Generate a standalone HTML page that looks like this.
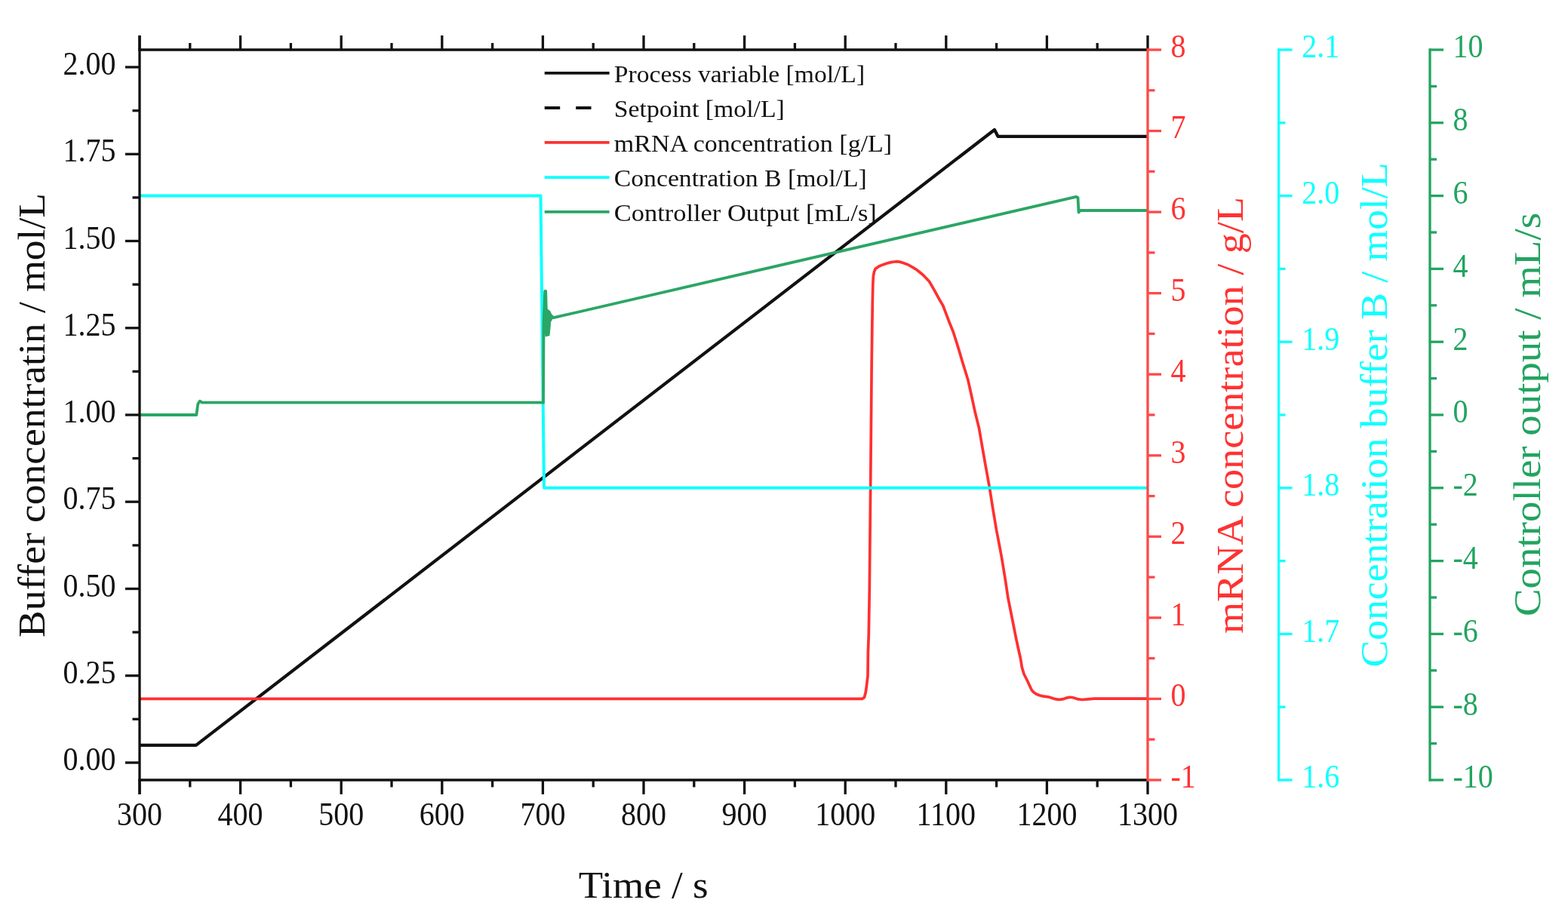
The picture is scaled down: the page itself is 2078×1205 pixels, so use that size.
<!DOCTYPE html>
<html><head><meta charset="utf-8"><title>Controller chart</title>
<style>html,body{margin:0;padding:0;background:#fff;width:2078px;height:1205px;overflow:hidden}</style>
</head><body>

<svg width="2078" height="1205" viewBox="0 0 2078 1205" style="display:block">
<rect width="2078" height="1205" fill="#fff"/>
<g font-family='"Liberation Serif", serif'>
<path d="M185.0,987.9 L259.8,987.9 L1318,172 L1322.5,180.8 L1521.0,180.8" fill="none" stroke="#111" stroke-width="4.2" stroke-linejoin="round"/>
<path d="M185.0,926.4 L1142.6,926.4 L1145.5,924.5 L1147.3,917.5 L1148.6,908.0 L1150.0,896.0 L1150.4,865.0 L1151.3,840.0 L1152.3,780.0 L1153.1,700.0 L1153.9,620.0 L1155.2,480.0 L1156.3,400.0 L1156.9,374.8 L1157.4,366.0 L1158.5,360.3 L1160.2,356.2 L1164.5,353.3 L1169.9,350.9 L1174.8,349.2 L1179.8,347.9 L1184.8,347.0 L1189.8,346.7 L1193.5,347.4 L1197.0,348.6 L1203.6,351.0 L1210.0,354.6 L1215.0,357.8 L1219.6,361.5 L1223.3,364.5 L1231.6,373.2 L1238.2,384.6 L1244.0,395.4 L1249.9,405.5 L1254.0,416.4 L1258.2,427.5 L1263.3,440.0 L1269.6,459.9 L1276.3,482.5 L1282.9,503.8 L1287.6,525.0 L1292.2,546.3 L1297.5,567.6 L1301.5,591.0 L1306.0,616.6 L1311.3,645.8 L1315.9,675.0 L1320.6,703.0 L1325.2,726.9 L1327.8,741.0 L1332.0,766.6 L1336.0,793.2 L1341.3,819.7 L1346.6,846.3 L1350.2,863.0 L1352.3,872.0 L1354.3,884.5 L1357.0,893.5 L1361.3,902.0 L1364.3,908.5 L1367.4,915.0 L1370.0,917.8 L1373.2,920.0 L1377.5,921.8 L1382.0,922.9 L1390.7,924.2 L1399.4,926.9 L1404.0,927.3 L1408.1,926.9 L1412.5,925.4 L1417.4,924.3 L1421.0,924.5 L1424.4,925.5 L1429.0,926.9 L1434.3,927.5 L1442.0,926.8 L1450.0,926.1 L1521.0,926.2" fill="none" stroke="#ff3030" stroke-width="3.7" stroke-linejoin="round"/>
<path d="M185.0,259.6 L716.5,259.6 L721,646.8 L1521.0,646.8" fill="none" stroke="#10ffff" stroke-width="4.0" stroke-linejoin="round"/>
<path d="M185.0,550.0 L260.3,550.0 L262.3,535.5 L264.8,531.7 L268,533.7 L720,533.7 L720.5,430 L722.2,386 L723.2,386 L723.8,410 L725,412 L726,420 L727,440 L728,425 L729,418 L731,419 L733.5,421.2 L1426,260.8 L1428.5,262 L1429.5,281.5 L1431.5,279 L1521,279" fill="none" stroke="#2aa665" stroke-width="3.8" stroke-linejoin="round"/>
<path d="M721,411 L724.5,409 L729,412 L733.5,421 L730,427 L728.5,445 L722.5,446.5 L721,432 Z" fill="#2aa665"/>
<line x1="183.3" y1="66.0" x2="1521.0" y2="66.0" stroke="#111" stroke-width="3.3" />
<line x1="183.3" y1="1034.0" x2="1521.0" y2="1034.0" stroke="#111" stroke-width="3.3" />
<line x1="185.0" y1="47.0" x2="185.0" y2="1053.0" stroke="#111" stroke-width="3.3" />
<line x1="185.0" y1="1034.0" x2="185.0" y2="1053.0" stroke="#111" stroke-width="3.3" />
<line x1="185.0" y1="66.0" x2="185.0" y2="47.0" stroke="#111" stroke-width="3.3" />
<text transform="matrix(0.92,0,0,1,185.0,1094.0)" fill="#111" font-size="43.5" text-anchor="middle">300</text>
<line x1="251.8" y1="1034.0" x2="251.8" y2="1043.5" stroke="#111" stroke-width="3.3" />
<line x1="251.8" y1="66.0" x2="251.8" y2="57.0" stroke="#111" stroke-width="3.3" />
<line x1="318.6" y1="1034.0" x2="318.6" y2="1053.0" stroke="#111" stroke-width="3.3" />
<line x1="318.6" y1="66.0" x2="318.6" y2="47.0" stroke="#111" stroke-width="3.3" />
<text transform="matrix(0.92,0,0,1,318.6,1094.0)" fill="#111" font-size="43.5" text-anchor="middle">400</text>
<line x1="385.4" y1="1034.0" x2="385.4" y2="1043.5" stroke="#111" stroke-width="3.3" />
<line x1="385.4" y1="66.0" x2="385.4" y2="57.0" stroke="#111" stroke-width="3.3" />
<line x1="452.2" y1="1034.0" x2="452.2" y2="1053.0" stroke="#111" stroke-width="3.3" />
<line x1="452.2" y1="66.0" x2="452.2" y2="47.0" stroke="#111" stroke-width="3.3" />
<text transform="matrix(0.92,0,0,1,452.2,1094.0)" fill="#111" font-size="43.5" text-anchor="middle">500</text>
<line x1="519.0" y1="1034.0" x2="519.0" y2="1043.5" stroke="#111" stroke-width="3.3" />
<line x1="519.0" y1="66.0" x2="519.0" y2="57.0" stroke="#111" stroke-width="3.3" />
<line x1="585.8" y1="1034.0" x2="585.8" y2="1053.0" stroke="#111" stroke-width="3.3" />
<line x1="585.8" y1="66.0" x2="585.8" y2="47.0" stroke="#111" stroke-width="3.3" />
<text transform="matrix(0.92,0,0,1,585.8,1094.0)" fill="#111" font-size="43.5" text-anchor="middle">600</text>
<line x1="652.6" y1="1034.0" x2="652.6" y2="1043.5" stroke="#111" stroke-width="3.3" />
<line x1="652.6" y1="66.0" x2="652.6" y2="57.0" stroke="#111" stroke-width="3.3" />
<line x1="719.4" y1="1034.0" x2="719.4" y2="1053.0" stroke="#111" stroke-width="3.3" />
<line x1="719.4" y1="66.0" x2="719.4" y2="47.0" stroke="#111" stroke-width="3.3" />
<text transform="matrix(0.92,0,0,1,719.4,1094.0)" fill="#111" font-size="43.5" text-anchor="middle">700</text>
<line x1="786.2" y1="1034.0" x2="786.2" y2="1043.5" stroke="#111" stroke-width="3.3" />
<line x1="786.2" y1="66.0" x2="786.2" y2="57.0" stroke="#111" stroke-width="3.3" />
<line x1="853.0" y1="1034.0" x2="853.0" y2="1053.0" stroke="#111" stroke-width="3.3" />
<line x1="853.0" y1="66.0" x2="853.0" y2="47.0" stroke="#111" stroke-width="3.3" />
<text transform="matrix(0.92,0,0,1,853.0,1094.0)" fill="#111" font-size="43.5" text-anchor="middle">800</text>
<line x1="919.8" y1="1034.0" x2="919.8" y2="1043.5" stroke="#111" stroke-width="3.3" />
<line x1="919.8" y1="66.0" x2="919.8" y2="57.0" stroke="#111" stroke-width="3.3" />
<line x1="986.6" y1="1034.0" x2="986.6" y2="1053.0" stroke="#111" stroke-width="3.3" />
<line x1="986.6" y1="66.0" x2="986.6" y2="47.0" stroke="#111" stroke-width="3.3" />
<text transform="matrix(0.92,0,0,1,986.6,1094.0)" fill="#111" font-size="43.5" text-anchor="middle">900</text>
<line x1="1053.4" y1="1034.0" x2="1053.4" y2="1043.5" stroke="#111" stroke-width="3.3" />
<line x1="1053.4" y1="66.0" x2="1053.4" y2="57.0" stroke="#111" stroke-width="3.3" />
<line x1="1120.2" y1="1034.0" x2="1120.2" y2="1053.0" stroke="#111" stroke-width="3.3" />
<line x1="1120.2" y1="66.0" x2="1120.2" y2="47.0" stroke="#111" stroke-width="3.3" />
<text transform="matrix(0.92,0,0,1,1120.2,1094.0)" fill="#111" font-size="43.5" text-anchor="middle">1000</text>
<line x1="1187.0" y1="1034.0" x2="1187.0" y2="1043.5" stroke="#111" stroke-width="3.3" />
<line x1="1187.0" y1="66.0" x2="1187.0" y2="57.0" stroke="#111" stroke-width="3.3" />
<line x1="1253.8" y1="1034.0" x2="1253.8" y2="1053.0" stroke="#111" stroke-width="3.3" />
<line x1="1253.8" y1="66.0" x2="1253.8" y2="47.0" stroke="#111" stroke-width="3.3" />
<text transform="matrix(0.92,0,0,1,1253.8,1094.0)" fill="#111" font-size="43.5" text-anchor="middle">1100</text>
<line x1="1320.6" y1="1034.0" x2="1320.6" y2="1043.5" stroke="#111" stroke-width="3.3" />
<line x1="1320.6" y1="66.0" x2="1320.6" y2="57.0" stroke="#111" stroke-width="3.3" />
<line x1="1387.4" y1="1034.0" x2="1387.4" y2="1053.0" stroke="#111" stroke-width="3.3" />
<line x1="1387.4" y1="66.0" x2="1387.4" y2="47.0" stroke="#111" stroke-width="3.3" />
<text transform="matrix(0.92,0,0,1,1387.4,1094.0)" fill="#111" font-size="43.5" text-anchor="middle">1200</text>
<line x1="1454.2" y1="1034.0" x2="1454.2" y2="1043.5" stroke="#111" stroke-width="3.3" />
<line x1="1454.2" y1="66.0" x2="1454.2" y2="57.0" stroke="#111" stroke-width="3.3" />
<line x1="1521.0" y1="1034.0" x2="1521.0" y2="1053.0" stroke="#111" stroke-width="3.3" />
<line x1="1521.0" y1="66.0" x2="1521.0" y2="47.0" stroke="#111" stroke-width="3.3" />
<text transform="matrix(0.92,0,0,1,1521.0,1094.0)" fill="#111" font-size="43.5" text-anchor="middle">1300</text>
<line x1="185.0" y1="1011.0" x2="166.0" y2="1011.0" stroke="#111" stroke-width="3.3" />
<text transform="matrix(0.92,0,0,1,153.5,1021.0)" fill="#111" font-size="43.5" text-anchor="end">0.00</text>
<line x1="185.0" y1="953.3" x2="175.5" y2="953.3" stroke="#111" stroke-width="3.3" />
<line x1="185.0" y1="895.7" x2="166.0" y2="895.7" stroke="#111" stroke-width="3.3" />
<text transform="matrix(0.92,0,0,1,153.5,905.7)" fill="#111" font-size="43.5" text-anchor="end">0.25</text>
<line x1="185.0" y1="838.1" x2="175.5" y2="838.1" stroke="#111" stroke-width="3.3" />
<line x1="185.0" y1="780.5" x2="166.0" y2="780.5" stroke="#111" stroke-width="3.3" />
<text transform="matrix(0.92,0,0,1,153.5,790.5)" fill="#111" font-size="43.5" text-anchor="end">0.50</text>
<line x1="185.0" y1="722.9" x2="175.5" y2="722.9" stroke="#111" stroke-width="3.3" />
<line x1="185.0" y1="665.2" x2="166.0" y2="665.2" stroke="#111" stroke-width="3.3" />
<text transform="matrix(0.92,0,0,1,153.5,675.2)" fill="#111" font-size="43.5" text-anchor="end">0.75</text>
<line x1="185.0" y1="607.6" x2="175.5" y2="607.6" stroke="#111" stroke-width="3.3" />
<line x1="185.0" y1="550.0" x2="166.0" y2="550.0" stroke="#111" stroke-width="3.3" />
<text transform="matrix(0.92,0,0,1,153.5,560.0)" fill="#111" font-size="43.5" text-anchor="end">1.00</text>
<line x1="185.0" y1="492.4" x2="175.5" y2="492.4" stroke="#111" stroke-width="3.3" />
<line x1="185.0" y1="434.8" x2="166.0" y2="434.8" stroke="#111" stroke-width="3.3" />
<text transform="matrix(0.92,0,0,1,153.5,444.8)" fill="#111" font-size="43.5" text-anchor="end">1.25</text>
<line x1="185.0" y1="377.1" x2="175.5" y2="377.1" stroke="#111" stroke-width="3.3" />
<line x1="185.0" y1="319.5" x2="166.0" y2="319.5" stroke="#111" stroke-width="3.3" />
<text transform="matrix(0.92,0,0,1,153.5,329.5)" fill="#111" font-size="43.5" text-anchor="end">1.50</text>
<line x1="185.0" y1="261.9" x2="175.5" y2="261.9" stroke="#111" stroke-width="3.3" />
<line x1="185.0" y1="204.3" x2="166.0" y2="204.3" stroke="#111" stroke-width="3.3" />
<text transform="matrix(0.92,0,0,1,153.5,214.3)" fill="#111" font-size="43.5" text-anchor="end">1.75</text>
<line x1="185.0" y1="146.7" x2="175.5" y2="146.7" stroke="#111" stroke-width="3.3" />
<line x1="185.0" y1="89.0" x2="166.0" y2="89.0" stroke="#111" stroke-width="3.3" />
<text transform="matrix(0.92,0,0,1,153.5,99.0)" fill="#111" font-size="43.5" text-anchor="end">2.00</text>
<line x1="1521.0" y1="64.3" x2="1521.0" y2="1035.7" stroke="#ff4848" stroke-width="3.3" />
<line x1="1521.0" y1="1034.0" x2="1539.0" y2="1034.0" stroke="#ff4848" stroke-width="3.3" />
<text transform="matrix(0.92,0,0,1,1551.5,1043.8)" fill="#ff3232" font-size="43.5" text-anchor="start">-1</text>
<line x1="1521.0" y1="980.2" x2="1530.5" y2="980.2" stroke="#ff4848" stroke-width="3.3" />
<line x1="1521.0" y1="926.4" x2="1539.0" y2="926.4" stroke="#ff4848" stroke-width="3.3" />
<text transform="matrix(0.92,0,0,1,1551.5,936.2)" fill="#ff3232" font-size="43.5" text-anchor="start">0</text>
<line x1="1521.0" y1="872.7" x2="1530.5" y2="872.7" stroke="#ff4848" stroke-width="3.3" />
<line x1="1521.0" y1="818.9" x2="1539.0" y2="818.9" stroke="#ff4848" stroke-width="3.3" />
<text transform="matrix(0.92,0,0,1,1551.5,828.7)" fill="#ff3232" font-size="43.5" text-anchor="start">1</text>
<line x1="1521.0" y1="765.1" x2="1530.5" y2="765.1" stroke="#ff4848" stroke-width="3.3" />
<line x1="1521.0" y1="711.3" x2="1539.0" y2="711.3" stroke="#ff4848" stroke-width="3.3" />
<text transform="matrix(0.92,0,0,1,1551.5,721.1)" fill="#ff3232" font-size="43.5" text-anchor="start">2</text>
<line x1="1521.0" y1="657.6" x2="1530.5" y2="657.6" stroke="#ff4848" stroke-width="3.3" />
<line x1="1521.0" y1="603.8" x2="1539.0" y2="603.8" stroke="#ff4848" stroke-width="3.3" />
<text transform="matrix(0.92,0,0,1,1551.5,613.6)" fill="#ff3232" font-size="43.5" text-anchor="start">3</text>
<line x1="1521.0" y1="550.0" x2="1530.5" y2="550.0" stroke="#ff4848" stroke-width="3.3" />
<line x1="1521.0" y1="496.2" x2="1539.0" y2="496.2" stroke="#ff4848" stroke-width="3.3" />
<text transform="matrix(0.92,0,0,1,1551.5,506.0)" fill="#ff3232" font-size="43.5" text-anchor="start">4</text>
<line x1="1521.0" y1="442.4" x2="1530.5" y2="442.4" stroke="#ff4848" stroke-width="3.3" />
<line x1="1521.0" y1="388.7" x2="1539.0" y2="388.7" stroke="#ff4848" stroke-width="3.3" />
<text transform="matrix(0.92,0,0,1,1551.5,398.5)" fill="#ff3232" font-size="43.5" text-anchor="start">5</text>
<line x1="1521.0" y1="334.9" x2="1530.5" y2="334.9" stroke="#ff4848" stroke-width="3.3" />
<line x1="1521.0" y1="281.1" x2="1539.0" y2="281.1" stroke="#ff4848" stroke-width="3.3" />
<text transform="matrix(0.92,0,0,1,1551.5,290.9)" fill="#ff3232" font-size="43.5" text-anchor="start">6</text>
<line x1="1521.0" y1="227.3" x2="1530.5" y2="227.3" stroke="#ff4848" stroke-width="3.3" />
<line x1="1521.0" y1="173.6" x2="1539.0" y2="173.6" stroke="#ff4848" stroke-width="3.3" />
<text transform="matrix(0.92,0,0,1,1551.5,183.4)" fill="#ff3232" font-size="43.5" text-anchor="start">7</text>
<line x1="1521.0" y1="119.8" x2="1530.5" y2="119.8" stroke="#ff4848" stroke-width="3.3" />
<line x1="1521.0" y1="66.0" x2="1539.0" y2="66.0" stroke="#ff4848" stroke-width="3.3" />
<text transform="matrix(0.92,0,0,1,1551.5,75.8)" fill="#ff3232" font-size="43.5" text-anchor="start">8</text>
<line x1="1694.6" y1="64.3" x2="1694.6" y2="1035.7" stroke="#10ffff" stroke-width="3.3" />
<line x1="1694.6" y1="1034.0" x2="1712.6" y2="1034.0" stroke="#10ffff" stroke-width="3.3" />
<text transform="matrix(0.92,0,0,1,1725.3,1044.3)" fill="#10ffff" font-size="43.5" text-anchor="start">1.6</text>
<line x1="1694.6" y1="937.2" x2="1703.6" y2="937.2" stroke="#10ffff" stroke-width="3.3" />
<line x1="1694.6" y1="840.4" x2="1712.6" y2="840.4" stroke="#10ffff" stroke-width="3.3" />
<text transform="matrix(0.92,0,0,1,1725.3,850.7)" fill="#10ffff" font-size="43.5" text-anchor="start">1.7</text>
<line x1="1694.6" y1="743.6" x2="1703.6" y2="743.6" stroke="#10ffff" stroke-width="3.3" />
<line x1="1694.6" y1="646.8" x2="1712.6" y2="646.8" stroke="#10ffff" stroke-width="3.3" />
<text transform="matrix(0.92,0,0,1,1725.3,657.1)" fill="#10ffff" font-size="43.5" text-anchor="start">1.8</text>
<line x1="1694.6" y1="550.0" x2="1703.6" y2="550.0" stroke="#10ffff" stroke-width="3.3" />
<line x1="1694.6" y1="453.2" x2="1712.6" y2="453.2" stroke="#10ffff" stroke-width="3.3" />
<text transform="matrix(0.92,0,0,1,1725.3,463.5)" fill="#10ffff" font-size="43.5" text-anchor="start">1.9</text>
<line x1="1694.6" y1="356.4" x2="1703.6" y2="356.4" stroke="#10ffff" stroke-width="3.3" />
<line x1="1694.6" y1="259.6" x2="1712.6" y2="259.6" stroke="#10ffff" stroke-width="3.3" />
<text transform="matrix(0.92,0,0,1,1725.3,269.9)" fill="#10ffff" font-size="43.5" text-anchor="start">2.0</text>
<line x1="1694.6" y1="162.8" x2="1703.6" y2="162.8" stroke="#10ffff" stroke-width="3.3" />
<line x1="1694.6" y1="66.0" x2="1712.6" y2="66.0" stroke="#10ffff" stroke-width="3.3" />
<text transform="matrix(0.92,0,0,1,1725.3,76.3)" fill="#10ffff" font-size="43.5" text-anchor="start">2.1</text>
<line x1="1895.0" y1="64.3" x2="1895.0" y2="1035.7" stroke="#22a460" stroke-width="3.3" />
<line x1="1895.0" y1="1034.0" x2="1913.0" y2="1034.0" stroke="#22a460" stroke-width="3.3" />
<text transform="matrix(0.92,0,0,1,1925.5,1044.3)" fill="#22a460" font-size="43.5" text-anchor="start">-10</text>
<line x1="1895.0" y1="985.6" x2="1904.0" y2="985.6" stroke="#22a460" stroke-width="3.3" />
<line x1="1895.0" y1="937.2" x2="1913.0" y2="937.2" stroke="#22a460" stroke-width="3.3" />
<text transform="matrix(0.92,0,0,1,1925.5,947.5)" fill="#22a460" font-size="43.5" text-anchor="start">-8</text>
<line x1="1895.0" y1="888.8" x2="1904.0" y2="888.8" stroke="#22a460" stroke-width="3.3" />
<line x1="1895.0" y1="840.4" x2="1913.0" y2="840.4" stroke="#22a460" stroke-width="3.3" />
<text transform="matrix(0.92,0,0,1,1925.5,850.7)" fill="#22a460" font-size="43.5" text-anchor="start">-6</text>
<line x1="1895.0" y1="792.0" x2="1904.0" y2="792.0" stroke="#22a460" stroke-width="3.3" />
<line x1="1895.0" y1="743.6" x2="1913.0" y2="743.6" stroke="#22a460" stroke-width="3.3" />
<text transform="matrix(0.92,0,0,1,1925.5,753.9)" fill="#22a460" font-size="43.5" text-anchor="start">-4</text>
<line x1="1895.0" y1="695.2" x2="1904.0" y2="695.2" stroke="#22a460" stroke-width="3.3" />
<line x1="1895.0" y1="646.8" x2="1913.0" y2="646.8" stroke="#22a460" stroke-width="3.3" />
<text transform="matrix(0.92,0,0,1,1925.5,657.1)" fill="#22a460" font-size="43.5" text-anchor="start">-2</text>
<line x1="1895.0" y1="598.4" x2="1904.0" y2="598.4" stroke="#22a460" stroke-width="3.3" />
<line x1="1895.0" y1="550.0" x2="1913.0" y2="550.0" stroke="#22a460" stroke-width="3.3" />
<text transform="matrix(0.92,0,0,1,1925.5,560.3)" fill="#22a460" font-size="43.5" text-anchor="start">0</text>
<line x1="1895.0" y1="501.6" x2="1904.0" y2="501.6" stroke="#22a460" stroke-width="3.3" />
<line x1="1895.0" y1="453.2" x2="1913.0" y2="453.2" stroke="#22a460" stroke-width="3.3" />
<text transform="matrix(0.92,0,0,1,1925.5,463.5)" fill="#22a460" font-size="43.5" text-anchor="start">2</text>
<line x1="1895.0" y1="404.8" x2="1904.0" y2="404.8" stroke="#22a460" stroke-width="3.3" />
<line x1="1895.0" y1="356.4" x2="1913.0" y2="356.4" stroke="#22a460" stroke-width="3.3" />
<text transform="matrix(0.92,0,0,1,1925.5,366.7)" fill="#22a460" font-size="43.5" text-anchor="start">4</text>
<line x1="1895.0" y1="308.0" x2="1904.0" y2="308.0" stroke="#22a460" stroke-width="3.3" />
<line x1="1895.0" y1="259.6" x2="1913.0" y2="259.6" stroke="#22a460" stroke-width="3.3" />
<text transform="matrix(0.92,0,0,1,1925.5,269.9)" fill="#22a460" font-size="43.5" text-anchor="start">6</text>
<line x1="1895.0" y1="211.2" x2="1904.0" y2="211.2" stroke="#22a460" stroke-width="3.3" />
<line x1="1895.0" y1="162.8" x2="1913.0" y2="162.8" stroke="#22a460" stroke-width="3.3" />
<text transform="matrix(0.92,0,0,1,1925.5,173.1)" fill="#22a460" font-size="43.5" text-anchor="start">8</text>
<line x1="1895.0" y1="114.4" x2="1904.0" y2="114.4" stroke="#22a460" stroke-width="3.3" />
<line x1="1895.0" y1="66.0" x2="1913.0" y2="66.0" stroke="#22a460" stroke-width="3.3" />
<text transform="matrix(0.92,0,0,1,1925.5,76.3)" fill="#22a460" font-size="43.5" text-anchor="start">10</text>
<text x="852.7" y="1190.0" fill="#111" font-size="50" text-anchor="middle" textLength="172" lengthAdjust="spacingAndGlyphs" >Time / s</text>
<text transform="translate(59,550.5) rotate(-90)" x="0" y="0" fill="#111" font-size="50" text-anchor="middle" textLength="589" lengthAdjust="spacingAndGlyphs">Buffer concentratin / mol/L</text>
<text transform="translate(1647.3,550.5) rotate(-90)" x="0" y="0" fill="#ff3232" font-size="50" text-anchor="middle" textLength="579" lengthAdjust="spacingAndGlyphs">mRNA concentration / g/L</text>
<text transform="translate(1838,550) rotate(-90)" x="0" y="0" fill="#10ffff" font-size="50" text-anchor="middle" textLength="669" lengthAdjust="spacingAndGlyphs">Concentration buffer B / mol/L</text>
<text transform="translate(2041,549.5) rotate(-90)" x="0" y="0" fill="#22a460" font-size="50" text-anchor="middle" textLength="535" lengthAdjust="spacingAndGlyphs">Controller output / mL/s</text>
<line x1="721.7" y1="96.9" x2="807.6" y2="96.9" stroke="#111" stroke-width="3.8" />
<text x="813.8" y="108.8" fill="#111" font-size="31" text-anchor="start" textLength="332.3" lengthAdjust="spacingAndGlyphs" >Process variable [mol/L]</text>
<line x1="721.7" y1="143.0" x2="783.5" y2="143.0" stroke="#111" stroke-width="3.8" stroke-dasharray="20.5 21"/>
<text x="813.8" y="154.9" fill="#111" font-size="31" text-anchor="start" textLength="226.0" lengthAdjust="spacingAndGlyphs" >Setpoint [mol/L]</text>
<line x1="721.7" y1="188.8" x2="807.6" y2="188.8" stroke="#ff3030" stroke-width="3.8" />
<text x="813.8" y="200.7" fill="#111" font-size="31" text-anchor="start" textLength="368.4" lengthAdjust="spacingAndGlyphs" >mRNA concentration [g/L]</text>
<line x1="721.7" y1="235.2" x2="807.6" y2="235.2" stroke="#10ffff" stroke-width="3.8" />
<text x="813.8" y="247.1" fill="#111" font-size="31" text-anchor="start" textLength="334.9" lengthAdjust="spacingAndGlyphs" >Concentration B [mol/L]</text>
<line x1="721.7" y1="280.9" x2="807.6" y2="280.9" stroke="#2aa665" stroke-width="3.8" />
<text x="813.8" y="292.8" fill="#111" font-size="31" text-anchor="start" textLength="348.0" lengthAdjust="spacingAndGlyphs" >Controller Output [mL/s]</text>
</g></svg>
</body></html>
